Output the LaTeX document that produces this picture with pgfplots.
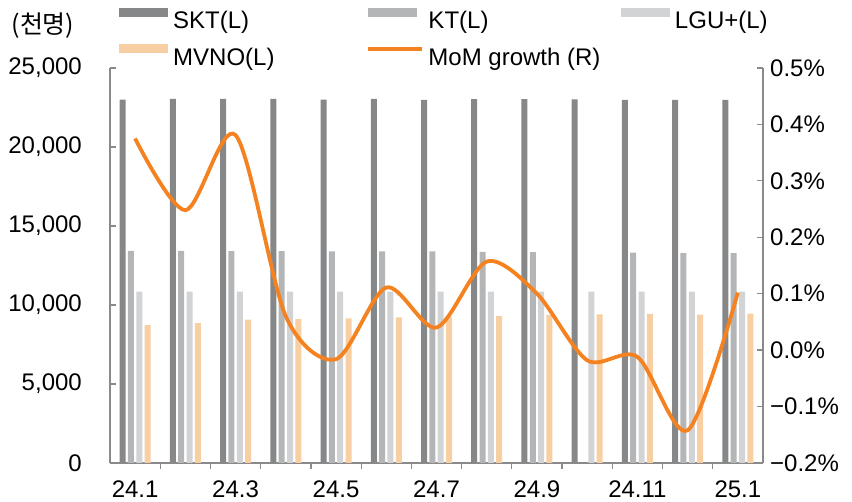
\documentclass[border=0pt]{standalone}
\usepackage{fontspec}
\setmainfont{Liberation Sans}
\newfontfamily\cjk{Noto Sans CJK KR}
\usepackage{pgfplots}
\usepackage{pgfplotstable}
\pgfplotsset{compat=1.18}

\definecolor{skt}{HTML}{858789}
\definecolor{kt}{HTML}{B4B5B7}
\definecolor{lgu}{HTML}{D2D3D5}
\definecolor{mvno}{HTML}{F7CFA3}
\definecolor{mom}{HTML}{F58220}
\definecolor{axisgray}{HTML}{8A8A8A}

% subscribers (thousand) by carrier and month-on-month growth (%)
\pgfplotstableread{
x  skt    kt     lgu    mvno  mom
0  23000  13420  10850  8730   0.375
1  23050  13420  10850  8860   0.248
2  23050  13410  10850  9070   0.381
3  23050  13410  10850  9110   0.060
4  23000  13400  10850  9160  -0.016
5  23050  13400  10850  9220   0.111
6  22990  13400  10850  9260   0.040
7  23030  13360  10850  9300   0.157
8  23030  13340  10850  9360   0.100
9  23020  nan    10850  9410  -0.018
10 22990  13320  10850  9430  -0.012
11 22990  13290  10850  9390  -0.142
12 22980  13280  10850  9450   0.102
}\subs

\pgfplotsset{
  barleg/.style={legend image code/.code={\fill[##1,draw=none] (0pt,4pt) rectangle (49pt,13pt);}},
  lineleg/.style={legend image code/.code={\draw[##1] (0pt,8.5pt) -- (54pt,8.5pt);}},
}

\begin{document}
\begin{tikzpicture}[font=\fontsize{24}{28}\selectfont]
\useasboundingbox (-110pt,-39pt) rectangle (742pt,463pt);
\begin{axis}[
  at={(0pt,0pt)}, anchor=south west,
  scale only axis, width=653pt, height=395pt,
  clip=false,
  xmin=-0.5, xmax=12.5, ymin=0, ymax=25000,
  axis x line*=bottom, axis y line*=left,
  axis line style={draw=axisgray, line width=1.3pt},
  tick style={draw=axisgray, line width=1.3pt},
  tick align=inside, major tick length=6pt,
  xtick={0.5,1.5,2.5,3.5,4.5,5.5,6.5,7.5,8.5,9.5,10.5,11.5},
  xticklabels={},
  extra x ticks={0,2,4,6,8,10,12},
  extra x tick labels={24.1,24.3,24.5,24.7,24.9,24.11,25.1},
  extra x tick style={major tick length=0pt,
    tick label style={anchor=north, inner sep=0pt, yshift=-18pt}},
  ytick={0,5000,10000,15000,20000,25000},
  yticklabel style={anchor=east, inner sep=0pt, xshift=-28pt},
  scaled y ticks=false,
  /pgf/number format/1000 sep={,},
  /pgf/number format/assume math mode=true,
  ybar, bar width=6pt,
  legend columns=3,
  legend cell align=left,
  legend style={at={(axis description cs:0.01378,1.1532)}, anchor=north west,
    draw=none, fill=none, inner sep=0pt, row sep=14pt,
    nodes={inner sep=0pt},
    /tikz/every odd column/.append style={column sep=5pt},
    /tikz/every even column/.append style={column sep=10pt}},
]
\addplot[fill=skt, draw=none, bar shift=-12.5pt, barleg] table[x=x,y=skt]{\subs};
\addlegendentry{\makebox[182.5pt][l]{SKT(L)}}
\addplot[fill=kt, draw=none, bar shift=-4.2pt, barleg] table[x=x,y=kt]{\subs};
\addlegendentry{\makebox[182.5pt][l]{KT(L)}}
\addplot[fill=lgu, draw=none, bar shift=4.2pt, barleg] table[x=x,y=lgu]{\subs};
\addlegendentry{\makebox[182.5pt][l]{LGU+(L)}}
\addplot[fill=mvno, draw=none, bar shift=12.5pt, barleg] table[x=x,y=mvno]{\subs};
\addlegendentry{\makebox[182.5pt][l]{MVNO(L)}}
\addlegendimage{color=mom, line width=3.8pt, lineleg}
\addlegendentry{\makebox[182.5pt][l]{MoM growth (R)}}
\node[font={\fontsize{25}{29}\cjk}] at (axis description cs:-0.1026,1.108) {(천명)};
\end{axis}
\begin{axis}[
  at={(0pt,0pt)}, anchor=south west,
  scale only axis, width=653pt, height=395pt,
  xmin=-0.5, xmax=12.5, ymin=-0.2, ymax=0.5,
  axis y line*=right, axis x line=none,
  axis line style={draw=axisgray, line width=1.3pt},
  tick style={draw=axisgray, line width=1.3pt},
  tick align=inside, major tick length=6pt,
  ytick={-0.2,-0.1,0,0.1,0.2,0.3,0.4,0.5},
  yticklabels={−0.2\%,−0.1\%,0.0\%,0.1\%,0.2\%,0.3\%,0.4\%,0.5\%},
  yticklabel style={anchor=west, inner sep=0pt, xshift=7pt},
]
\addplot[smooth, color=mom, line width=3.8pt] table[x=x,y=mom]{\subs};
\end{axis}
\end{tikzpicture}
\end{document}
